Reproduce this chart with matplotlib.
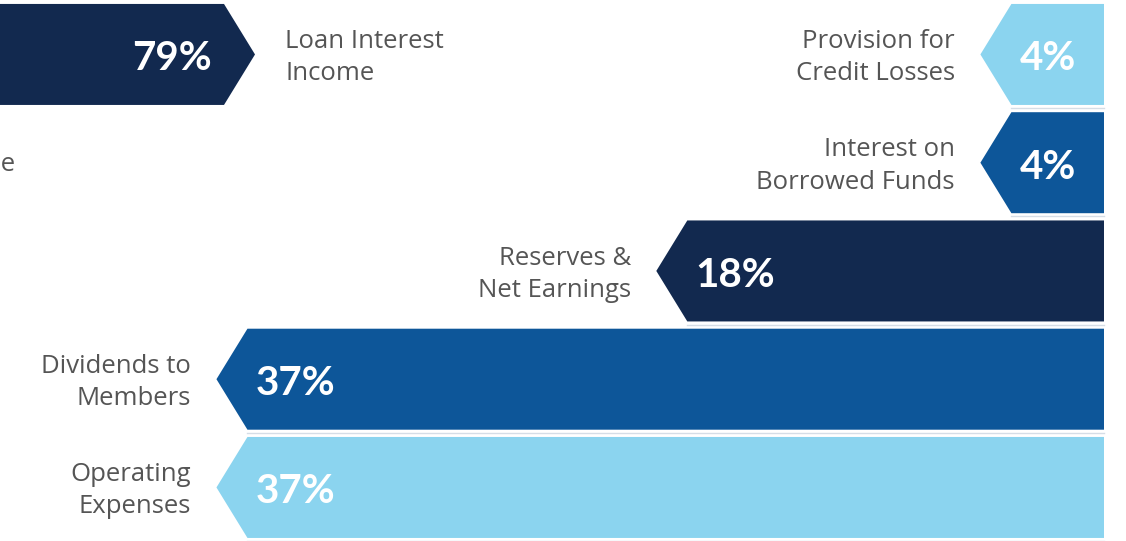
import matplotlib
matplotlib.use("Agg")
import matplotlib.pyplot as plt
from matplotlib.patches import Polygon

plt.rcParams['font.family'] = ['Open Sans', 'DejaVu Sans']

# expenses (right side, bars grow leftwards from the right edge)
exp_labels = ["Provision for\nCredit Losses", "Interest on\nBorrowed Funds",
              "Reserves &\nNet Earnings", "Dividends to\nMembers", "Operating\nExpenses"]
exp_values = [4, 4, 18, 37, 37]
exp_colors = ["#8bd4ef", "#0d5699", "#12294f", "#0d5699", "#8bd4ef"]

# income (left side, cropped in the picture)
inc_label = "Loan Interest\nIncome"
inc_value = 79
inc_color = "#12294f"
cut_label = "Other Income"   # only its last letter shows at the left edge

px = 23.15           # pixels per percent
W, H = 1126, 541
right_edge = 1104 / px
left_anchor = 224 / px
tip = 31 / px
bh = 0.933
gray = "#555555"

fig = plt.figure(figsize=(W / 100, H / 100), dpi=100)
ax = fig.add_axes([0, 0, 1, 1])
ax.set_xlim(0, W / px)
ax.set_ylim(H / 108.25 - 0.503, -0.503)
ax.axis('off')

for i, (lab, v, c) in enumerate(zip(exp_labels, exp_values, exp_colors)):
    x0 = right_edge - v
    y0, y1 = i - bh / 2, i + bh / 2
    ax.add_patch(Polygon([(right_edge, y0), (x0, y0), (x0 - tip, i), (x0, y1), (right_edge, y1)],
                         closed=True, fc=c, ec='none'))
    ax.plot([x0, right_edge], [y1 + 0.03, y1 + 0.03], color="#d5dde6", lw=1)
    ax.text(x0 + 0.35, i + 0.04, f"{v}%", color="white", fontsize=29, fontweight='bold',
            family=['Lato', 'DejaVu Sans'], ha='left', va='center')
    ax.text(x0 - tip - 1.1, i + 0.03, lab, color=gray, fontsize=18.5, ha='right', va='center',
            linespacing=1.38)

# income bar, starts off the left edge
x1 = left_anchor
x0 = x1 - inc_value
ax.add_patch(Polygon([(x0, -bh / 2), (x1, -bh / 2), (x1 + tip, 0), (x1, bh / 2), (x0, bh / 2)],
                     closed=True, fc=inc_color, ec='none'))
ax.text(x1 - 0.55, 0.04, f"{inc_value}%", color="white", fontsize=29, fontweight='bold',
        family=['Lato', 'DejaVu Sans'], ha='right', va='center')
ax.text(x1 + tip + 1.3, 0.03, inc_label, color=gray, fontsize=18.5, ha='left', va='center',
        linespacing=1.38)
ax.text(15 / px, 1.02, cut_label, color=gray, fontsize=18.5, ha='right', va='center')

fig.savefig("out.png", dpi=100)
